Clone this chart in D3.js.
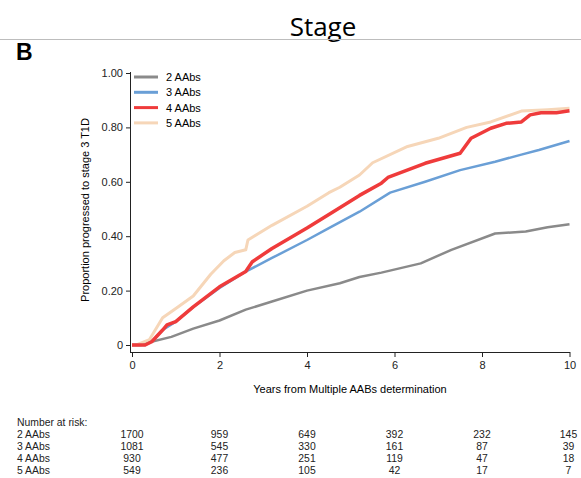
<!DOCTYPE html>
<meta charset="utf-8">
<head>
    <style type="text/css">
        body { margin: 0; background: #fff; }
        .axis text { font-family: "Liberation Sans", Arial, sans-serif; font-size: 11px; fill: #222; }
        .axis path, .axis line { stroke: #222; stroke-width: 1; }
        .line { fill: none; stroke-linejoin: round; }
        .risk { font-family: "Liberation Sans", Arial, sans-serif; font-size: 10.4px; fill: #222; }
    </style>
</head>
<body>
<script src="https://d3js.org/d3.v7.min.js"></script>
<script>
    // series: [years, proportion]
    var aabs2 = [[0,0],[0.2,0],[0.4,0.01],[0.9,0.03],[1.4,0.06],[2.0,0.09],[2.6,0.13],[3.2,0.16],[4.0,0.20],[4.75,0.227],[5.2,0.25],[5.7,0.266],[6.6,0.30],[7.3,0.35],[8.3,0.41],[9.0,0.417],[9.5,0.433],[10,0.444]];
    var aabs3 = [[0,0],[0.3,0],[0.45,0.012],[0.7,0.055],[1.0,0.086],[1.4,0.14],[2.0,0.21],[2.6,0.27],[3.2,0.32],[4.0,0.386],[4.5,0.43],[5.2,0.49],[5.9,0.56],[6.7,0.60],[7.5,0.643],[8.3,0.674],[8.9,0.70],[9.3,0.717],[10,0.75]];
    var aabs4 = [[0,0],[0.3,0],[0.45,0.012],[0.7,0.055],[0.8,0.074],[1.0,0.086],[1.4,0.14],[2.0,0.214],[2.6,0.27],[2.75,0.306],[3.2,0.355],[4.0,0.43],[4.5,0.48],[5.2,0.55],[5.7,0.595],[5.85,0.616],[6.7,0.668],[7.5,0.705],[7.75,0.76],[8.2,0.797],[8.55,0.815],[8.9,0.82],[9.1,0.846],[9.35,0.854],[9.7,0.854],[10,0.861]];
    var aabs5 = [[0,0],[0.1,0],[0.4,0.02],[0.7,0.10],[1.05,0.14],[1.4,0.18],[1.8,0.26],[2.1,0.31],[2.35,0.34],[2.6,0.35],[2.65,0.386],[3.2,0.44],[4.0,0.51],[4.5,0.56],[4.75,0.58],[5.2,0.625],[5.5,0.67],[6.3,0.73],[7.0,0.76],[7.65,0.80],[8.2,0.82],[8.9,0.86],[9.5,0.865],[10,0.87]];

    var groups = ["2 AAbs", "3 AAbs", "4 AAbs", "5 AAbs"];
    var colors = ["#8a8a8a", "#6a9fd6", "#ef3b3b", "#f6d6b8"];
    var widths = [2.5, 2.5, 3.5, 3];
    var xTicks = [0, 2, 4, 6, 8, 10];
    var yTicks = [0, 0.2, 0.4, 0.6, 0.8, 1.0];
    var atRisk = [
        [1700, 959, 649, 392, 232, 145],
        [1081, 545, 330, 161, 87, 39],
        [930, 477, 251, 119, 47, 18],
        [549, 236, 105, 42, 17, 7]
    ];

    var svg = d3.select("body").append("svg")
        .attr("width", 581)
        .attr("height", 478);

    // header
    svg.append("text")
        .attr("x", 323).attr("y", 36)
        .attr("text-anchor", "middle")
        .style("font-family", "'Open Sans', sans-serif")
        .style("font-size", "26px")
        .text("Stage");
    svg.append("line")
        .attr("x1", 0).attr("x2", 581).attr("y1", 39.5).attr("y2", 39.5)
        .attr("stroke", "#bdbdbd").attr("stroke-width", 1);
    svg.append("text")
        .attr("x", 16).attr("y", 60)
        .style("font-family", "'Liberation Sans', Arial, sans-serif")
        .style("font-weight", "bold")
        .style("font-size", "23px")
        .text("B");

    var xScale = d3.scaleLinear().domain([0, 10]).range([132, 569.5]);
    var yScale = d3.scaleLinear().domain([0, 1]).range([345, 73]);

    svg.append("g")
        .attr("class", "axis")
        .attr("transform", "translate(0,352)")
        .call(d3.axisBottom(xScale).tickValues(xTicks).tickSize(5).tickSizeOuter(0).tickPadding(4))
        .call(function (g) { g.select(".domain").attr("d", "M130,0.5H570"); });

    svg.append("g")
        .attr("class", "axis")
        .attr("transform", "translate(130,0)")
        .call(d3.axisLeft(yScale).tickValues(yTicks).tickSize(4).tickSizeOuter(0).tickPadding(3)
            .tickFormat(function (d) { return d === 0 ? "0" : d3.format(".2f")(d); }))
        .call(function (g) { g.select(".domain").attr("d", "M0.5,72V352"); });

    svg.append("text")
        .attr("x", 350).attr("y", 393)
        .attr("text-anchor", "middle")
        .style("font-family", "'Liberation Sans', Arial, sans-serif")
        .style("font-size", "11px")
        .text("Years from Multiple AABs determination");

    svg.append("text")
        .attr("transform", "translate(89,210) rotate(-90)")
        .attr("text-anchor", "middle")
        .style("font-family", "'Liberation Sans', Arial, sans-serif")
        .style("font-size", "11px")
        .text("Proportion progressed to stage 3 T1D");

    var line = d3.line()
        .x(function (d) { return xScale(d[0]); })
        .y(function (d) { return yScale(d[1]); });

    var series = [aabs2, aabs3, aabs4, aabs5];
    var order = [0, 3, 1, 2];
    order.forEach(function (i) {
        svg.append("path")
            .datum(series[i])
            .attr("class", "line")
            .attr("stroke", colors[i])
            .attr("stroke-width", widths[i])
            .attr("d", line);
    });

    // legend
    var legend = svg.append("g");
    groups.forEach(function (g, i) {
        var y = 77 + i * 15.3;
        legend.append("line")
            .attr("x1", 134).attr("x2", 158).attr("y1", y).attr("y2", y)
            .attr("stroke", colors[i]).attr("stroke-width", 3);
        legend.append("text")
            .attr("x", 166).attr("y", y + 4)
            .style("font-family", "'Liberation Sans', Arial, sans-serif")
            .style("font-size", "11px")
            .text(g);
    });

    // number at risk table
    svg.append("text").attr("class", "risk")
        .attr("x", 17).attr("y", 426).text("Number at risk:");
    groups.forEach(function (g, i) {
        var y = 438 + i * 12;
        svg.append("text").attr("class", "risk")
            .attr("x", 17).attr("y", y).text(g);
        atRisk[i].forEach(function (v, j) {
            svg.append("text").attr("class", "risk")
                .attr("x", xScale(xTicks[j]) - (j === 5 ? 1 : 0)).attr("y", y)
                .attr("text-anchor", "middle")
                .text(v);
        });
    });
</script>
</body>
